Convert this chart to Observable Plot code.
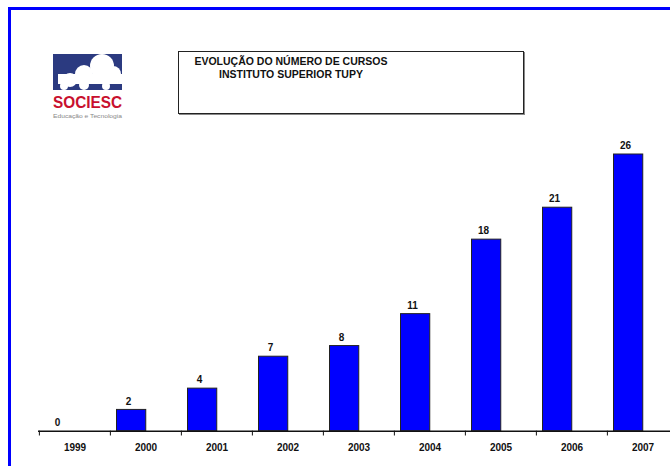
<!DOCTYPE html>
<html>
<head>
<meta charset="utf-8">
<script src="https://cdn.jsdelivr.net/npm/d3@7"></script>
<script src="https://cdn.jsdelivr.net/npm/@observablehq/plot@0.6"></script>
<style>
  html, body { margin: 0; padding: 0; background: #fff; }
  body { width: 670px; height: 466px; overflow: hidden; position: relative; font-family: "Liberation Sans", Arial, sans-serif; }
  #frame { position: absolute; left: 8px; top: 7px; width: 700px; height: 500px; border-top: 3px solid #0000ff; border-left: 3px solid #0000ff; box-sizing: border-box; pointer-events: none; z-index: 3; }
  #chart { position: absolute; left: 0; top: 0; }
  #titlebox { position: absolute; left: 178px; top: 51px; width: 346px; height: 63px; border: 1px solid #222; box-sizing: border-box; box-shadow: 1px 1px 0 #888; z-index: 2; }
  #title { position: absolute; left: 176px; top: 55px; width: 230px; text-align: center; font-weight: bold; font-size: 10.5px; line-height: 13px; color: #111; z-index: 2; }
  #logo { position: absolute; left: 50px; top: 52px; z-index: 2; }
</style>
</head>
<body>
<div id="frame"></div>
<div id="chart"></div>
<div id="titlebox"></div>
<div id="title"></div>
<svg id="logo" width="76" height="70" viewBox="0 0 76 70">
  <rect x="3" y="2" width="69" height="36" fill="#2b3a80"/>
  <g fill="#fff">
    <circle cx="52" cy="14" r="12"/>
    <circle cx="34" cy="22" r="9"/>
    <circle cx="63" cy="22" r="8"/>
    <circle cx="20" cy="28" r="7"/>
    <rect x="8" y="22" width="64" height="10"/>
    <circle cx="14" cy="34" r="4"/>
    <circle cx="34" cy="33" r="5"/>
    <circle cx="56" cy="34" r="4"/>
  </g>
  <text id="brand" x="3" y="56" font-family="Liberation Sans, Arial, sans-serif" font-weight="bold" font-size="16" fill="#c8102e" textLength="69" lengthAdjust="spacingAndGlyphs"></text>
  <text id="tagline" x="3" y="66" font-family="Liberation Sans, Arial, sans-serif" font-size="6" fill="#888" textLength="69" lengthAdjust="spacingAndGlyphs"></text>
</svg>
<script>
// ---- data ----
const years = ["1999", "2000", "2001", "2002", "2003", "2004", "2005", "2006", "2007"];
const courses = [0, 2, 4, 7, 8, 11, 18, 21, 26];
const titleLines = ["EVOLUÇÃO DO NÚMERO DE CURSOS", "INSTITUTO SUPERIOR TUPY"];
const brandName = "SOCIESC";
const brandTagline = "Educação e Tecnologia";

const data = years.map((y, i) => ({year: y, count: courses[i]}));

document.getElementById("title").innerHTML = titleLines.map(t => `<div>${t}</div>`).join("");
document.getElementById("brand").textContent = brandName;
document.getElementById("tagline").textContent = brandTagline;

const band = 71.25;
const chart = Plot.plot({
  width: 670,
  height: 466,
  marginLeft: 38,
  marginRight: 0,
  marginTop: 154,
  marginBottom: 35.3,
  style: {fontFamily: "Liberation Sans, Arial, sans-serif", fontSize: "10px", fontWeight: "bold", color: "#111", background: "transparent"},
  x: {domain: years, range: [38, 38 + band * years.length], padding: 0, axis: null},
  y: {domain: [0, 26], range: [430.7, 154], axis: null},
  marks: [
    Plot.barY(data.filter(d => d.count > 0), {x: "year", y: "count", fill: "#0000ff", stroke: "#222", strokeWidth: 1, insetLeft: 6.5, insetRight: band - 36}),
    Plot.ruleY([0], {stroke: "#111", strokeWidth: 1.5}),
    Plot.ruleX(years, {x: d => d, dx: -band / 2, y1: 0, y2: -0.45, stroke: "#111", strokeWidth: 1}),
    Plot.text(data, {x: "year", y: "count", text: d => String(d.count), dx: -band / 2 + 21.25 - 3, dy: -8.5, fill: "#111", fontWeight: "bold", fontSize: 10}),
    Plot.axisX({domain: years, tickSize: 0, tickPadding: 12.5, fontWeight: "bold", fontSize: 10, fill: "#111", label: null})
  ]
});
document.getElementById("chart").appendChild(chart);
</script>
</body>
</html>
